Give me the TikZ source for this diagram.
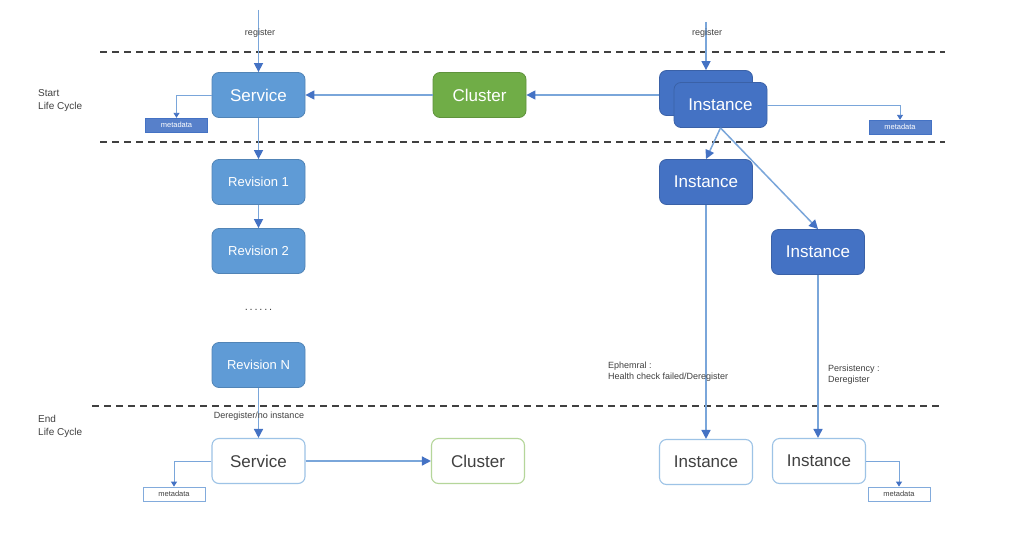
\documentclass[tikz,border=0pt]{standalone}
\usepackage{fontspec}
\setmainfont{Liberation Sans}
\usetikzlibrary{arrows.meta}
\definecolor{svcblue}{HTML}{5F9BD6}
\definecolor{instblue}{HTML}{4472C4}
\definecolor{clgreen}{HTML}{70AD47}
\definecolor{linblue}{HTML}{7AA6DA}
\definecolor{tipblue}{HTML}{4472C4}
\definecolor{lightbord}{HTML}{9DC3E6}
\definecolor{lightgreen}{HTML}{B5D69A}
\definecolor{txtgray}{HTML}{404040}
\begin{document}
\begin{tikzpicture}[x=1pt,y=-1pt,
  box/.style={rounded corners=7pt, minimum width=93pt, minimum height=45pt, inner sep=0pt,
    font=\fontsize{17}{20}\selectfont, line width=0.8pt},
  svc/.style={box, fill=svcblue, draw=svcblue!85!black, text=white},
  inst/.style={box, fill=instblue, draw=instblue!85!black, text=white},
  clu/.style={box, fill=clgreen, draw=clgreen!85!black, text=white},
  endbox/.style={box, fill=white, draw=lightbord, text=txtgray, line width=1.1pt},
  endclu/.style={box, fill=white, draw=lightgreen, text=txtgray, line width=1.1pt},
  metaf/.style={fill=instblue!90!white, draw=instblue, text=white, minimum width=62pt, minimum height=14pt,
    inner sep=0pt, font=\fontsize{7.5}{8}\selectfont},
  metae/.style={fill=white, draw=lightbord!70!instblue, text=txtgray, minimum width=62pt, minimum height=14pt,
    inner sep=0pt, font=\fontsize{7.5}{8}\selectfont, line width=0.8pt},
  conn/.style={draw=linblue, line width=1.5pt, -{Triangle[length=9pt,width=9pt,color=tipblue]}},
  mconn/.style={draw=linblue, line width=0.9pt, -{Triangle[length=5pt,width=6pt,color=tipblue]}},
  lbl/.style={font=\fontsize{9}{11}\selectfont, text=txtgray, inner sep=0pt},
  side/.style={font=\fontsize{10}{13}\selectfont, text=txtgray, align=left, anchor=west, inner sep=0pt},
  sep/.style={dashed, dash pattern=on 7pt off 5pt, line width=1.6pt, draw=black!75}
]
\useasboundingbox (0,0) rectangle (1011,535);
\fill[white] (0,0) rectangle (1011,535);

% separators
\draw[sep] (100,52) -- (945,52);
\draw[sep] (100,142) -- (945,142);
\draw[sep] (92,406) -- (940,406);

\node[side] (startlbl) at (38,101) {Start\\Life Cycle};
\node[side] (endlbl) at (38,426) {End\\Life Cycle};

% top row
\node[svc] (svc) at (258.5,95) {Service};
\node[clu] (clu) at (479.5,95) {Cluster};
\node[inst] (instB) at (706,93) {};
\node[inst] (instF) at (720.5,105) {Instance};
\node[metaf] (m1) at (176.5,125) {metadata};
\node[metaf] (m2) at (900,127) {metadata};

\coordinate (reg1) at (258.5,10);
\coordinate (reg2) at (706,22);
\draw[conn] (reg1) -- (svc.north);
\draw[conn] (reg2) -- (instB.north);
\node[lbl] (r1) at (260,33) {register};
\node[lbl] (r2) at (707,33) {register};

\draw[conn] (clu.west) -- (svc.east);
\draw[conn] (instB.west |- clu.east) -- (clu.east);
\draw[mconn] (svc.west) -| (m1.north);
\draw[mconn] (instF.east) -| (m2.north);

% revisions
\node[svc] (rev1) at (258.5,182) {\fontsize{13}{15}\selectfont Revision 1};
\node[svc] (rev2) at (258.5,251) {\fontsize{13}{15}\selectfont Revision 2};
\node[lbl, font=\fontsize{11}{12}\selectfont] (dots) at (258.5,310) {.\,.\,.\,.\,.\,.};
\node[svc] (revN) at (258.5,365) {\fontsize{13}{15}\selectfont Revision N};
\draw[conn] (svc.south) -- (rev1.north);
\draw[conn] (rev1.south) -- (rev2.north);

% instances
\node[inst] (inst2) at (706,182) {Instance};
\node[inst] (inst3) at (818,252) {Instance};
\draw[conn] (instF.south) -- (inst2.north);
\draw[conn] (instF.south) -- (inst3.north);

% end row
\node[endbox] (esvc) at (258.5,461) {Service};
\node[endclu] (eclu) at (478,461) {Cluster};
\node[endbox] (einst1) at (706,462) {Instance};
\node[endbox] (einst2) at (819,461) {Instance};
\node[metae] (m3) at (174,494) {metadata};
\node[metae] (m4) at (899,494) {metadata};

\draw[conn] (revN.south) -- (esvc.north);
\node[lbl] (dereg) at (259,416) {Deregister/no instance};
\draw[conn] (esvc.east) -- (eclu.west);
\draw[mconn] (esvc.west) -| (m3.north);
\draw[mconn] (einst2.east) -| (m4.north);

\draw[conn] (inst2.south) -- (inst2.south |- einst1.north);
\draw[conn] (inst3.south) -- (inst3.south |- einst2.north);
\node[lbl, align=left, anchor=west] (eph) at (608,372) {Ephemral :\\Health check failed/Deregister};
\node[lbl, align=left, anchor=west] (pers) at (828,375) {Persistency :\\Deregister};
\end{tikzpicture}
\end{document}
